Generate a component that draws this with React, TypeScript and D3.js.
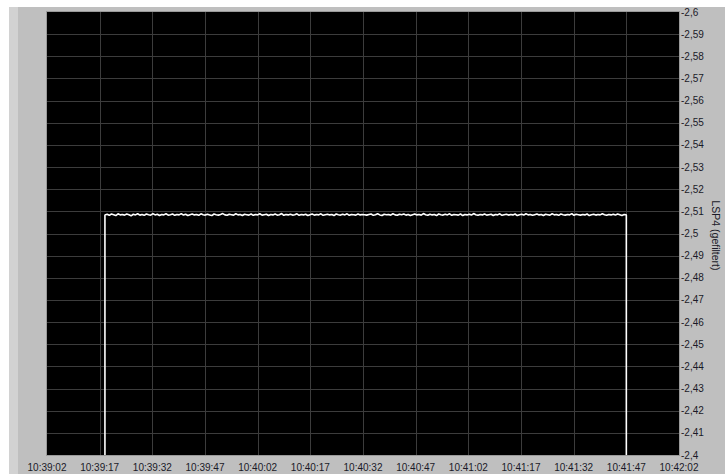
import { useEffect, useRef } from 'react'
import * as d3 from 'd3'

// time axis ticks (every 15 s)
const xTickLabels = [
  '10:39:02', '10:39:17', '10:39:32', '10:39:47', '10:40:02', '10:40:17', '10:40:32',
  '10:40:47', '10:41:02', '10:41:17', '10:41:32', '10:41:47', '10:42:02',
]

// right axis ticks (top -> bottom)
const yTicks = [
  -2.6, -2.59, -2.58, -2.57, -2.56, -2.55, -2.54, -2.53, -2.52, -2.51, -2.5,
  -2.49, -2.48, -2.47, -2.46, -2.45, -2.44, -2.43, -2.42, -2.41, -2.4,
]

// signal is off (0) before / after the measurement
const offValue = 0
const onTime = '10:39:18.500'
const offTime = '10:41:47'

// filtered LSP4 readings while on
const lspValues = [
  -2.5084, -2.5087, -2.5082, -2.5088, -2.5085, -2.5081, -2.5089, -2.5084, -2.5086, -2.5083,
  -2.5088, -2.5085, -2.508, -2.5087, -2.5084, -2.5089, -2.5083, -2.5086, -2.5082, -2.5088,
  -2.5085, -2.5083, -2.509, -2.5084, -2.5087, -2.5081, -2.5086, -2.5084, -2.5089, -2.5083,
  -2.5085, -2.5088, -2.5082, -2.5086, -2.5084, -2.509, -2.5083, -2.5087, -2.5081, -2.5085,
  -2.5088, -2.5084, -2.5086, -2.5082, -2.5089, -2.5085, -2.5083, -2.5087, -2.5084, -2.5081,
  -2.5088, -2.5085, -2.5083, -2.5086, -2.509, -2.5084, -2.5082, -2.5087, -2.5085, -2.5083,
  -2.5089, -2.5084, -2.5086, -2.5081, -2.5087, -2.5085, -2.5083, -2.5088, -2.5082, -2.5086,
  -2.5084, -2.5089, -2.5083, -2.5085, -2.5087, -2.5081, -2.5086, -2.5084, -2.5088, -2.5083,
  -2.5085, -2.509, -2.5082, -2.5086, -2.5084, -2.5087, -2.5083, -2.5085, -2.5089, -2.5082,
  -2.5086, -2.5084, -2.5087, -2.5081, -2.5085, -2.5088, -2.5083, -2.5086, -2.5084, -2.5089,
  -2.5082, -2.5085, -2.5087, -2.5084, -2.5086, -2.5081, -2.5088, -2.5085, -2.5083, -2.5087,
  -2.5084, -2.5089, -2.5082, -2.5086, -2.5085, -2.5083, -2.5088, -2.5084, -2.5086, -2.5085,
  -2.5083, -2.5086, -2.5088, -2.5082, -2.5085, -2.5089, -2.5084, -2.5081, -2.5087, -2.5085,
  -2.5086, -2.5083, -2.5089, -2.5084, -2.5082, -2.5087, -2.5085, -2.5088, -2.5083, -2.5086,
  -2.5081, -2.5085, -2.5088, -2.5084, -2.5086, -2.5083, -2.509, -2.5085, -2.5082, -2.5087,
  -2.5084, -2.5086, -2.5081, -2.5088, -2.5085, -2.5083, -2.5087, -2.5084, -2.5089, -2.5082,
  -2.5086, -2.5085, -2.5083, -2.5088, -2.5081, -2.5086, -2.5084, -2.5087, -2.5083, -2.509,
  -2.5085, -2.5082, -2.5086, -2.5084, -2.5088, -2.5083, -2.5085, -2.5087, -2.5081, -2.5086,
  -2.5084, -2.5089, -2.5082, -2.5085, -2.5087, -2.5083, -2.5086, -2.5084, -2.5088, -2.5081,
  -2.5085, -2.5087, -2.5083, -2.5089, -2.5084, -2.5086, -2.5082, -2.5085, -2.5088, -2.5084,
  -2.5086, -2.5081, -2.5087, -2.5085, -2.5083, -2.5089, -2.5084, -2.5086, -2.5082, -2.5088,
  -2.5085, -2.5083, -2.5086, -2.5084, -2.509, -2.5082, -2.5087, -2.5085, -2.5083, -2.5086,
  -2.5084, -2.5088, -2.5081, -2.5085, -2.5087, -2.5083, -2.5086, -2.5084, -2.5089, -2.5085,
  -2.5082, -2.5086, -2.5084, -2.5087, -2.5083, -2.5088, -2.5085, -2.5081, -2.5086, -2.5084,
]

type Pt = { t: Date; v: number }

export default function App() {
  const svgRef = useRef<SVGSVGElement>(null)

  useEffect(() => {
    const W = 725,
      H = 474
    const plot = { left: 47, top: 12, right: 679, bottom: 455 }
    const font = "'Liberation Sans', Arial, sans-serif"
    const textColor = '#1a1a28'

    const parse = d3.timeParse('%H:%M:%S')
    const parseMs = d3.timeParse('%H:%M:%S.%L')
    const ticks = xTickLabels.map((s) => parse(s) as Date)
    const tOn = parseMs(onTime) as Date
    const tOff = parse(offTime) as Date

    const x = d3
      .scaleTime()
      .domain([ticks[0], ticks[ticks.length - 1]])
      .range([plot.left, plot.right])
    const y = d3.scaleLinear().domain([-2.6, -2.4]).range([plot.top, plot.bottom])

    // samples evenly spread over the on-period
    const dt = (tOff.getTime() - tOn.getTime()) / (lspValues.length - 1)
    const data: Pt[] = [
      { t: ticks[0], v: offValue },
      { t: tOn, v: offValue },
      ...lspValues.map((v, i) => ({ t: new Date(tOn.getTime() + i * dt), v })),
      { t: tOff, v: offValue },
      { t: ticks[ticks.length - 1], v: offValue },
    ]

    const svg = d3.select(svgRef.current).attr('width', W).attr('height', H)
    svg.selectAll('*').remove()

    // panel background
    svg.append('rect').attr('width', W).attr('height', H).attr('fill', '#ffffff')
    svg.append('rect').attr('x', 9).attr('y', 7).attr('width', W - 9).attr('height', H - 7).attr('fill', '#bfbfbf')
    svg.append('rect').attr('x', 9).attr('y', 7).attr('width', 9).attr('height', H - 7).attr('fill', '#d2d2d2')

    // plot area
    svg
      .append('rect')
      .attr('x', plot.left - 1)
      .attr('y', plot.top - 1)
      .attr('width', plot.right - plot.left + 2)
      .attr('height', plot.bottom - plot.top + 2)
      .attr('fill', '#9a9a9a')
    svg
      .append('rect')
      .attr('x', plot.left)
      .attr('y', plot.top)
      .attr('width', plot.right - plot.left)
      .attr('height', plot.bottom - plot.top)
      .attr('fill', '#000000')

    svg
      .append('defs')
      .append('clipPath')
      .attr('id', 'plotclip')
      .append('rect')
      .attr('x', plot.left)
      .attr('y', plot.top)
      .attr('width', plot.right - plot.left)
      .attr('height', plot.bottom - plot.top)

    const grid = svg.append('g').attr('stroke', '#3c3c3c').attr('stroke-width', 1)
    grid
      .selectAll('line.v')
      .data(ticks.slice(1, -1))
      .join('line')
      .attr('x1', (d) => Math.round(x(d)) + 0.5)
      .attr('x2', (d) => Math.round(x(d)) + 0.5)
      .attr('y1', plot.top)
      .attr('y2', plot.bottom)
    grid
      .selectAll('line.h')
      .data(yTicks.slice(1, -1))
      .join('line')
      .attr('x1', plot.left)
      .attr('x2', plot.right)
      .attr('y1', (d) => Math.round(y(d)) + 0.5)
      .attr('y2', (d) => Math.round(y(d)) + 0.5)

    const line = d3
      .line<Pt>()
      .x((d) => x(d.t))
      .y((d) => y(d.v))

    svg
      .append('path')
      .datum(data)
      .attr('clip-path', 'url(#plotclip)')
      .attr('d', line)
      .attr('fill', 'none')
      .attr('stroke', '#ffffff')
      .attr('stroke-width', 1.6)
      .attr('stroke-linejoin', 'bevel')

    // x labels
    svg
      .append('g')
      .selectAll('text')
      .data(ticks)
      .join('text')
      .attr('x', (d) => x(d))
      .attr('y', 471)
      .attr('text-anchor', 'middle')
      .style('font-family', font)
      .style('font-size', '10px')
      .attr('fill', textColor)
      .text((d, i) => xTickLabels[i])

    // right axis labels (decimal comma)
    const fmt = (v: number) => String(+v.toFixed(2)).replace('.', ',')
    svg
      .append('g')
      .selectAll('text')
      .data(yTicks)
      .join('text')
      .attr('x', plot.right + 2)
      .attr('y', (d) => y(d) + 3.5)
      .style('font-family', font)
      .style('font-size', '10px')
      .attr('fill', textColor)
      .text((d) => fmt(d))

    svg
      .append('text')
      .attr('transform', `translate(712, ${(plot.top + plot.bottom) / 2 + 2}) rotate(90)`)
      .attr('text-anchor', 'middle')
      .style('font-family', font)
      .style('font-size', '10.5px')
      .attr('fill', textColor)
      .text('LSP4 (gefiltert)')
  }, [])

  return <svg ref={svgRef} style={{ position: 'absolute', left: 0, top: 0, display: 'block' }}></svg>
}
